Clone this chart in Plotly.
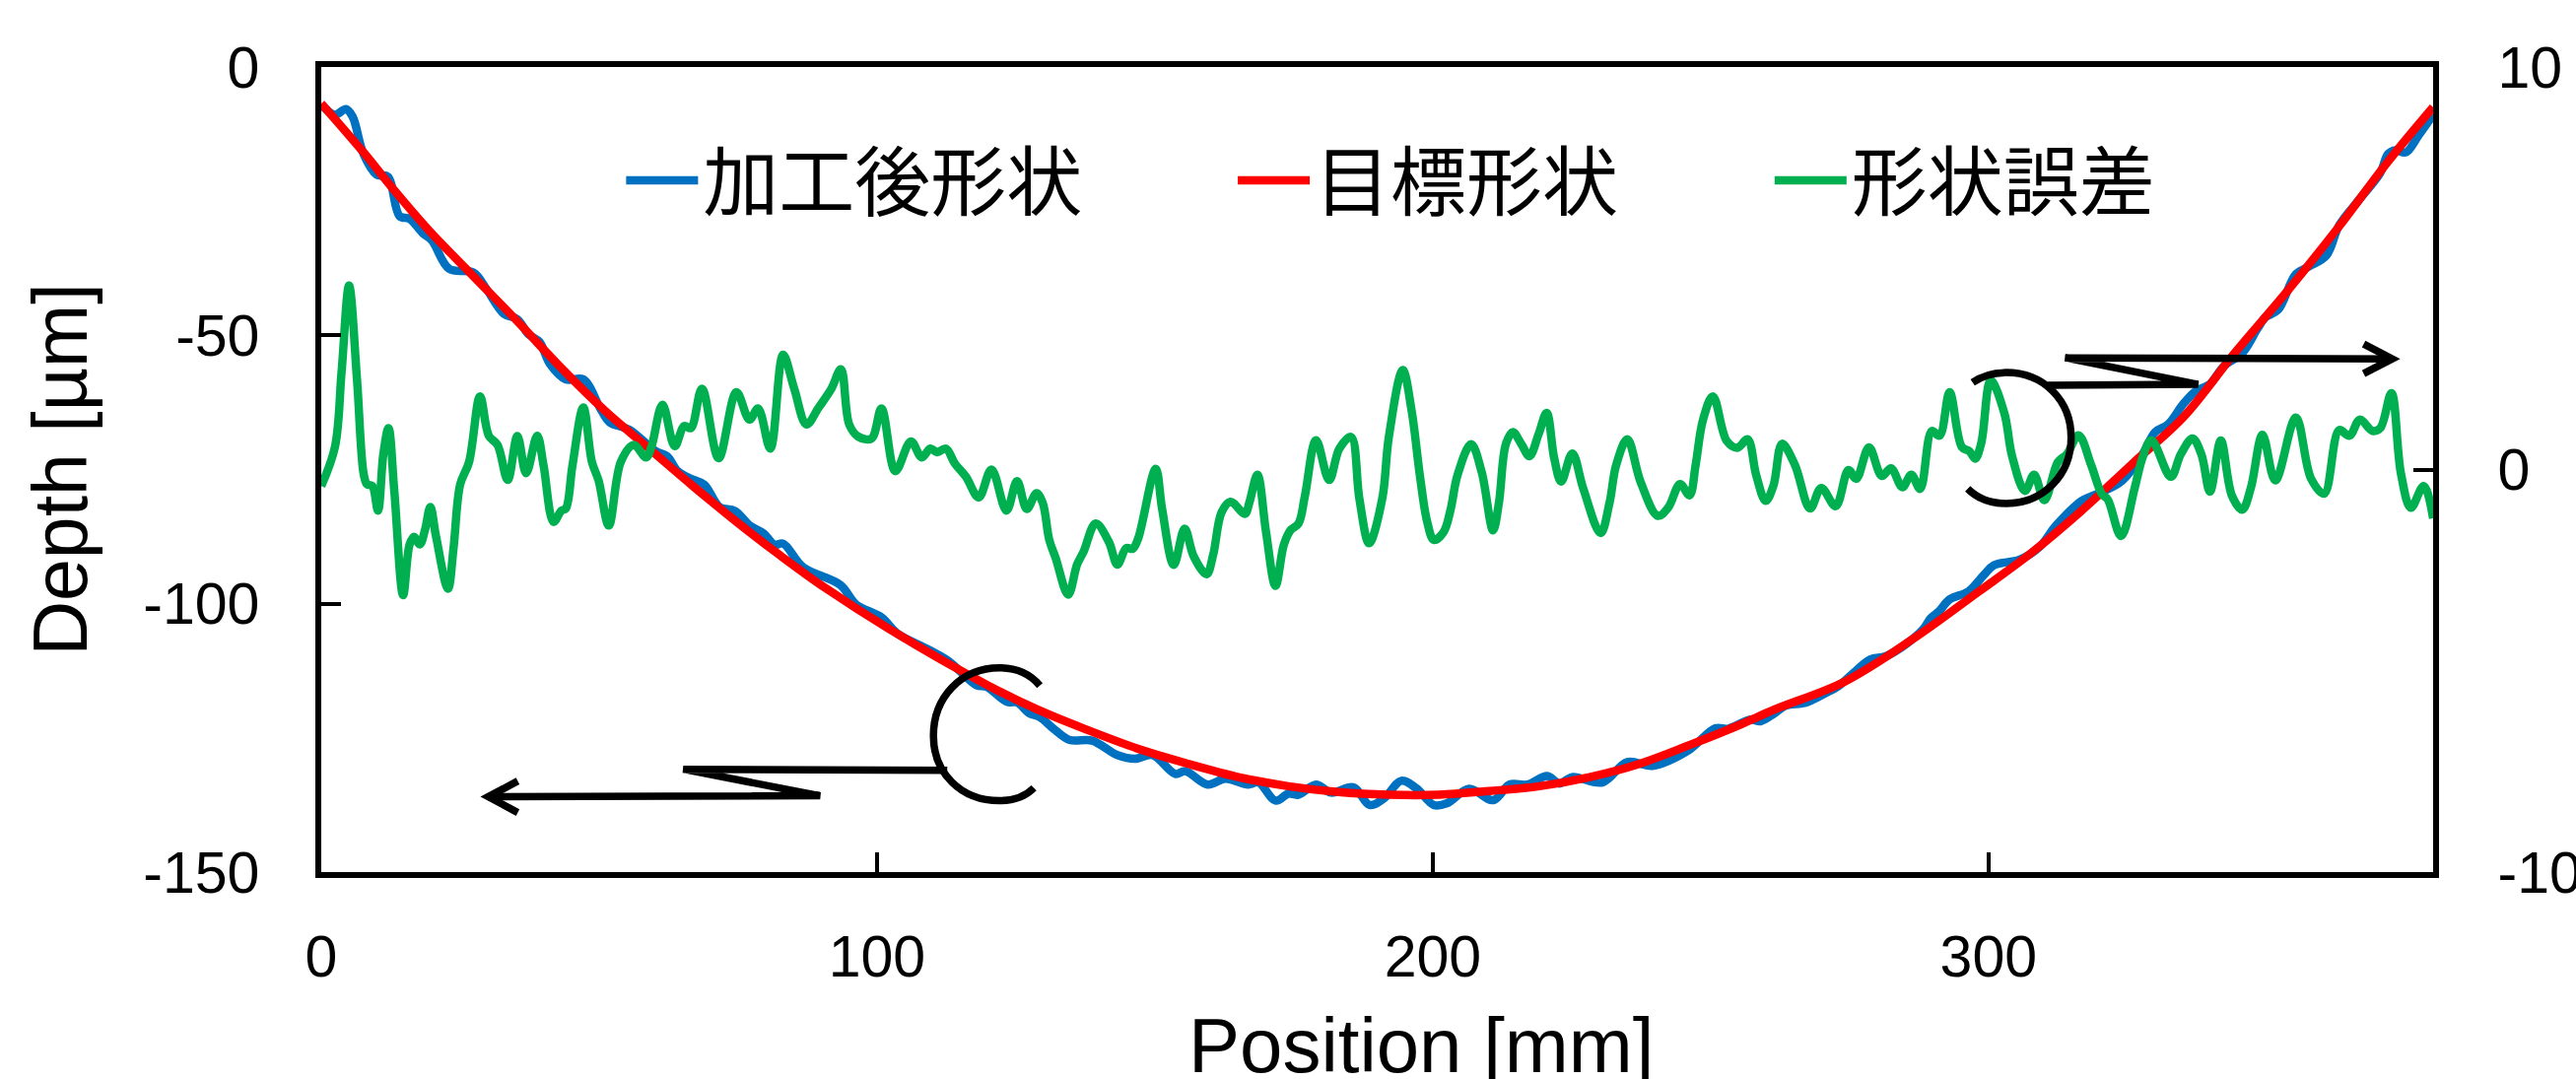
import plotly.graph_objects as go

# ---------- data ----------
target_pos = [0, 7.6, 12.75, 19.5, 27.4, 35.3, 43.2, 51.1, 59, 66.9, 74.8, 82.7, 90.6, 102.5, 119.75, 128.8, 137.8,
              146.9, 155.9, 165, 174, 183, 192.1, 201.1, 210.2, 219.2, 228.25, 237.3, 246.3, 255.4, 261.5, 274.05,
              286.5, 298.3, 307.5, 316.7, 325.9, 335.1, 344.3, 353.5, 362.7, 371.9, 380]
target_depth = [-6.8, -15.9, -22.5, -30.6, -39, -47.4, -56.1, -64.1, -71.1, -78.1, -84.8, -91.1, -97.0, -104.9, -115.1,
                -119.7, -123.5, -127.0, -129.8, -132.3, -134.0, -135.1, -135.6, -135.6, -134.9, -134.0, -132.3, -129.8,
                -126.3, -122.5, -119.7, -114.55, -106.5, -97.7, -90.7, -82.7, -73.9, -65.2, -53.3, -42.1, -30.2, -17.6,
                -7.5]

machined_pos = [0.1, 2.47, 4.45, 5.64, 7.6, 10.0, 11.96, 14.1, 15.9, 18.3, 19.9, 23.0, 27.4, 29.75, 32.9, 35.3, 37.3,
                39.25, 41.2, 44.0, 47.15, 50.3, 51.9, 55.45, 60.2, 62.2, 64.15, 66.5, 68.9, 71.7, 74.4, 77.2, 79.6,
                81.55, 83.1, 86.7, 93.4, 96.2, 100.9, 103.6, 109.2, 112.9, 117.9, 119.75, 123.4, 125.2, 127.4, 129.25,
                132.0, 134.7, 138.7, 143.25, 146.4, 149.6, 153.65, 155.5, 159.5, 162.7, 166.8, 168.6, 171.75, 174.0,
                175.8, 179.0, 181.7, 185.75, 188.65, 191.2, 194.35, 197.05, 200.2, 202.5, 206.55, 210.9, 213.8, 217.0,
                220.6, 222.8, 225.1, 230.5, 235.0, 239.55, 245.9, 250.85, 253.1, 257.2, 259.0, 261.5, 263.5, 267.2,
                271.0, 272.8, 275.6, 278.7, 281.5, 285.2, 288.35, 289.6, 291.1, 293.0, 296.4, 299.2, 301.0, 305.6,
                309.3, 312.1, 316.7, 320.35, 324.0, 327.7, 330.0, 332.3, 335.1, 337.4, 339.7, 342.4, 345.65, 348.4,
                349.8, 352.1, 355.3, 357.6, 360.8, 363.1, 366.8, 370.5, 371.9, 373.25, 375.1, 377.4, 380.0]
machined_depth = [-7.1, -8.9, -7.85, -9.25, -16.2, -20.1, -20.4, -27.8, -28.3, -31.0, -32.3, -37.6, -38.3, -41.4, -46.0,
                  -47.0, -49.8, -51.2, -55.4, -58.2, -58.2, -63.8, -66.2, -67.6, -71.6, -72.5, -75.3, -76.7, -77.8,
                  -82.0, -82.7, -85.5, -86.9, -89.0, -88.8, -93.2, -96.5, -100.1, -102.6, -105.5, -108.5, -110.7,
                  -115.2, -115.5, -118.3, -118.4, -120.4, -121.1, -123.5, -125.4, -125.5, -128.2, -128.9, -128.2,
                  -131.7, -131.2, -133.7, -132.6, -133.7, -133.3, -136.7, -135.4, -135.6, -133.7, -135.2, -134.2,
                  -137.5, -136.3, -133.0, -134.4, -137.5, -137.2, -134.5, -136.6, -133.7, -133.7, -132.1, -133.5,
                  -132.3, -133.3, -129.5, -130.2, -127.4, -123.2, -123.3, -121.6, -121.9, -120.4, -119.0, -118.4,
                  -116.5, -115.5, -113.0, -110.4, -109.8, -107.5, -104.6, -102.7, -101.4, -99.2, -97.7, -94.6, -92.8,
                  -91.8, -89.3, -85.5, -80.9, -79.2, -77.1, -72.2, -68.0, -66.6, -62.7, -60.3, -59.2, -55.7, -53.3,
                  -48.75, -46.65, -45.25, -38.6, -37.2, -35.1, -29.5, -24.6, -19.7, -16.2, -15.5, -15.9, -12.7, -8.9]

error_pos = [0, 2.47, 3.66, 5.0, 6.43, 7.61, 8.24, 9.19, 10.2, 11.17, 12.1, 13.15, 14.73, 15.9, 16.7, 17.73, 18.68,
             19.63, 20.66, 22.8, 23.8, 25.0, 26.6, 28.57, 30.15, 31.73, 33.55, 35.29, 36.87, 38.85, 40.0, 41.8, 43.2,
             44.0, 45.2, 47.15, 48.7, 49.9, 51.74, 53.9, 56.25, 58.46, 59.4, 61.4, 63.6, 65.3, 66.5, 68.5, 71.5, 74.7,
             77.05, 78.6, 80.8, 83.1, 85.1, 87.3, 89.5, 91.8, 93.5, 95.0, 96.6, 99.0, 100.8, 103.3, 106.1, 108.05,
             109.6, 110.8, 112.4, 114.0, 116.0, 118.3, 120.6, 123.3, 125.2, 126.95, 128.7, 129.8, 131.0, 132.15,
             134.4, 136.0, 137.2, 139.35, 141.7, 143.25, 144.85, 146.0, 147.0, 150.15, 151.3, 153.4, 155.35, 157.0,
             159.3, 160.5, 162.0, 163.6, 166.2, 167.0, 168.45, 170.0, 171.7, 173.2, 174.4, 175.85, 177.0, 179.0,
             181.35, 183.2, 185.3, 186.8, 188.55, 190.9, 192.1, 194.6, 196.2, 197.7, 199.0, 200.2, 201.96, 203.2,
             204.45, 206.9, 208.8, 210.85, 211.9, 213.15, 214.4, 215.95, 217.4, 219.05, 220.5, 221.85, 223.1, 225.1,
             227.1, 230.2, 231.8, 233.0, 235.0, 237.4, 240.5, 242.35, 244.5, 246.2, 247.3, 248.6, 250.4, 252.9, 254.8,
             256.65, 258.2, 259.9, 261.3, 262.85, 265.15, 267.9, 269.9, 272.5, 274.8, 276.2, 278.5, 280.8, 282.45,
             284.5, 286.1, 287.7, 289.8, 291.2, 293.0, 295.2, 296.6, 297.6, 298.7, 300.4, 302.85, 304.25, 306.55,
             308.2, 310.05, 312.5, 314.1, 316.2, 318.5, 320.35, 321.45, 323.85, 326.3, 327.7, 329.3, 332.8, 334.6,
             336.7, 338.3, 339.85, 341.8, 343.8, 345.65, 347.2, 349.3, 351.6, 355.3, 358.05, 360.4, 363.1, 364.95,
             366.8, 369.1, 370.5, 372.5, 374.2, 376.0, 378.3, 380.0]
error_value = [-0.41, 0.565, 2.43, 4.57, 2.24, -0.09, -0.37, -0.41, -1.02, 0.38, 1.03, -0.55, -3.12, -1.86, -1.67, -1.86,
               -1.49, -0.93, -1.67, -2.96, -1.95, -0.37, 0.19, 1.82, 0.84, 0.61, -0.26, 0.83, -0.09, 0.84, 0.10, -1.30,
               -1.02, -0.97, 0.10, 1.54, 0.19, -0.27, -1.39, 0.19, 0.61, 0.30, 0.56, 1.61, 0.58, 1.08, 1.03, 2.01, 0.28,
               1.92, 1.24, 1.52, 0.52, 2.85, 2.01, 1.12, 1.54, 2.01, 2.49, 1.12, 0.82, 0.77, 1.52, -0.04, 0.70, 0.30,
               0.52, 0.43, 0.52, 0.15, -0.18, -0.69, 0.00, -1.02, -0.29, -0.98, -0.59, -0.82, -1.75, -2.20, -3.11,
               -2.36, -2.03, -1.34, -1.79, -2.36, -1.95, -1.97, -1.71, 0.02, -0.98, -2.37, -1.47, -2.16, -2.60, -2.11,
               -1.06, -0.80, -1.10, -0.82, -0.13, -1.55, -2.89, -1.87, -1.51, -1.34, -0.65, 0.73, -0.26, 0.52, 0.81,
               -0.73, -1.83, -0.73, 0.81, 2.47, 1.46, -0.17, -1.3, -1.75, -1.55, -1.0, -0.14, 0.63, -0.06, -1.51, -0.83,
               0.63, 0.93, 0.63, 0.33, 0.88, 1.41, 0.28, -0.30, 0.40, -0.48, -1.58, -0.83, 0.11, 0.75, -0.31, -1.15,
               -0.95, -0.36, -0.64, 0.11, 1.22, 1.82, 0.71, 0.54, 0.75, -0.14, -0.78, -0.40, 0.64, 0.12, -0.97, -0.46,
               -0.91, -0.01, -0.23, 0.55, -0.16, 0.03, -0.44, -0.13, -0.48, 0.96, 0.84, 1.92, 0.56, 0.45, 0.27, 0.66,
               2.21, 1.40, 0.33, -0.53, -0.13, -0.76, 0.19, 0.38, 0.85, 0.10, -0.60, -0.74, -1.65, -0.46, 0.29, 0.73,
               -0.18, 0.38, 0.77, 0.38, -0.55, 0.72, -0.65, -1.0, -0.46, 0.86, -0.27, 1.29, -0.23, -0.60, 0.98, 0.84,
               1.24, 0.96, 1.03, 1.90, -0.09, -0.95, -0.41, -1.21]

x_ticks = [0, 100, 200, 300]
x_tick_text = ["0", "100", "200", "300"]
depth_ticks = [0, -50, -100, -150]
depth_tick_text = ["0", "-50", "-100", "-150"]
error_ticks = [10, 0, -10]
error_tick_text = ["10", "0", "-10"]

# ---------- page geometry ----------
W, H = 2614, 1095
L, R, T, B = 325.5, 2469.5, 67.5, 885.5


def pt(px, py):
    return f"{(px - L) / (R - L):.5f},{(B - py) / (B - T):.5f}"


def path(*cmds):
    out = []
    for c in cmds:
        out.append(c[0] + " ".join(pt(c[i], c[i + 1]) for i in range(1, len(c), 2)))
    return " ".join(out)


callouts = [
    # left bracket
    path(("M", 1055, 696), ("C", 1045, 684, 1030, 678, 1014, 678), ("C", 975, 678, 947, 708, 947, 747),
         ("C", 947, 785, 975, 813, 1014, 813), ("C", 1028, 813, 1041, 808, 1049, 800)),
    # left zig-zag arrow
    path(("M", 961, 782), ("L", 693, 781), ("L", 832, 808), ("L", 495, 809)),
    path(("M", 525, 793), ("L", 495, 809), ("L", 525, 825)),
    # right bracket
    path(("M", 2002, 388), ("C", 2012, 381, 2024, 378, 2036, 378), ("C", 2074, 378, 2102, 406, 2102, 444),
         ("C", 2102, 482, 2074, 511, 2036, 511), ("C", 2020, 511, 2006, 505, 1997, 496)),
    # right zig-zag arrow
    path(("M", 2078, 391), ("L", 2231, 390), ("L", 2096, 363), ("L", 2428, 364)),
    path(("M", 2399, 349), ("L", 2428, 364), ("L", 2399, 379)),
]

SANS = "Liberation Sans"
CJK = "Noto Sans CJK JP"

fig = go.Figure()
fig.add_trace(go.Scatter(x=machined_pos, y=machined_depth, name="加工後形状", mode="lines", legend="legend",
                         line=dict(color="#0070C0", width=8.5, shape="spline", smoothing=1)))
fig.add_trace(go.Scatter(x=target_pos, y=target_depth, name="目標形状", mode="lines", legend="legend2",
                         line=dict(color="#FF0000", width=8.5, shape="spline", smoothing=1)))
fig.add_trace(go.Scatter(x=error_pos, y=error_value, name="形状誤差", mode="lines", yaxis="y2", legend="legend3",
                         line=dict(color="#00B050", width=8.5, shape="spline", smoothing=1)))


def legend_at(px, py):
    return dict(x=(px - L) / (R - L), y=(B - py) / (B - T), xanchor="left", yanchor="middle", orientation="h",
                itemwidth=73, borderwidth=0, bgcolor="rgba(0,0,0,0)",
                font=dict(family=CJK, size=77, color="black"))


axis_common = dict(showline=True, linecolor="black", linewidth=5.5, ticks="inside", ticklen=20, tickwidth=4,
                   tickcolor="black", showgrid=False, zeroline=False, automargin=False,
                   tickfont=dict(family=SANS, size=59, color="black"))

fig.update_layout(
    width=W, height=H, autosize=False,
    margin=dict(l=L, r=W - R, t=T, b=H - B, pad=0),
    paper_bgcolor="white", plot_bgcolor="white", showlegend=True,
    xaxis=dict(range=[0, 380], tickmode="array", tickvals=x_ticks, ticktext=x_tick_text, mirror=True,
               ticklabelstandoff=29, **axis_common),
    yaxis=dict(range=[-150, 0], tickmode="array", tickvals=depth_ticks, ticktext=depth_tick_text,
               ticklabelstandoff=45,
               title=dict(text="Depth [µm]", font=dict(family=SANS, size=77, color="black"), standoff=33),
               **axis_common),
    yaxis2=dict(range=[-10, 10], tickmode="array", tickvals=error_ticks, ticktext=error_tick_text, overlaying="y",
                side="right", ticklabelstandoff=48, **axis_common),
    legend=legend_at(630, 183), legend2=legend_at(1251, 183), legend3=legend_at(1796, 183),
    annotations=[dict(text="Position [mm]", xref="paper", yref="paper", x=(1442 - L) / (R - L), y=(B - 1062) / (B - T),
                      xanchor="center", yanchor="middle", showarrow=False,
                      font=dict(family=SANS, size=78, color="black"))],
    shapes=[dict(type="path", path=p, xref="paper", yref="paper", line=dict(color="black", width=7.5),
                 fillcolor="rgba(0,0,0,0)", layer="above") for p in callouts],
)

fig.write_html("out.html", config={"displayModeBar": False},
               post_script="document.body.style.margin='0';document.body.style.overflow='hidden';")
